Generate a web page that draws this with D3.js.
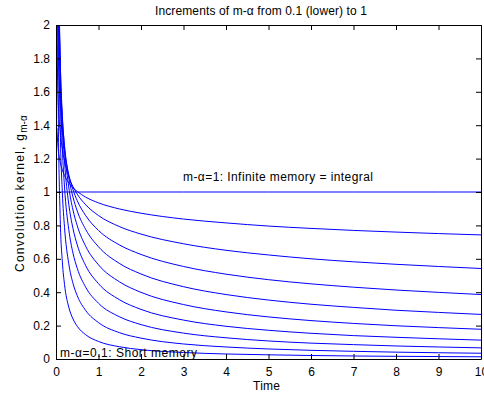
<!DOCTYPE html>
<html><head><meta charset="utf-8">
<script src="https://cdn.jsdelivr.net/npm/d3@7/dist/d3.min.js"></script>
<style>body{margin:0;background:#fff}svg{display:block}text{font-family:"Liberation Sans",Arial,sans-serif}</style>
</head><body><svg id="c" width="484" height="393"></svg>
<script>
const times = [0.02,0.05,0.1,0.15,0.2,0.3,0.4,0.5,0.7,1,1.5,2,3,4,5,6,7,8,9,10];
const orders = [0.1,0.2,0.3,0.4,0.5,0.6,0.7,0.8,0.9,1];
const kernel01 = [3.55,1.56,0.835,0.58,0.447,0.311,0.240,0.196,0.145,0.105,0.073,0.056,0.039,0.030,0.025,0.021,0.018,0.016,0.0146,0.0132];
const kernel02 = [4.98,2.39,1.374,0.994,0.789,0.571,0.453,0.379,0.290,0.218,0.157,0.125,0.090,0.072,0.060,0.052,0.046,0.041,0.0375,0.0345];
const kernel03 = [5.17,2.72,1.675,1.261,1.030,0.776,0.634,0.543,0.429,0.334,0.252,0.206,0.155,0.127,0.108,0.095,0.086,0.078,0.072,0.0667];
const kernel04 = [4.71,2.72,1.795,1.407,1.184,0.928,0.781,0.683,0.558,0.451,0.354,0.297,0.233,0.196,0.172,0.154,0.140,0.130,0.121,0.113];
const kernel05 = [3.99,2.52,1.784,1.457,1.262,1.030,0.892,0.798,0.674,0.564,0.461,0.399,0.326,0.282,0.252,0.230,0.213,0.199,0.188,0.178];
const kernel06 = [3.21,2.23,1.687,1.435,1.279,1.087,0.969,0.886,0.775,0.672,0.571,0.509,0.433,0.386,0.353,0.328,0.309,0.292,0.279,0.267];
const kernel07 = [2.49,1.893,1.537,1.361,1.249,1.105,1.014,0.948,0.858,0.770,0.682,0.626,0.554,0.508,0.475,0.450,0.430,0.413,0.399,0.386];
const kernel08 = [1.88,1.564,1.362,1.255,1.185,1.093,1.032,0.987,0.923,0.859,0.792,0.748,0.690,0.651,0.623,0.600,0.582,0.567,0.554,0.542];
const kernel09 = [1.384,1.262,1.178,1.131,1.099,1.055,1.025,1.003,0.969,0.935,0.898,0.873,0.838,0.815,0.796,0.782,0.770,0.760,0.751,0.743];
const kernel10 = [1,1,1,1,1,1,1,1,1,1,1,1,1,1,1,1,1,1,1,1];
const series = [kernel01,kernel02,kernel03,kernel04,kernel05,kernel06,kernel07,kernel08,kernel09,kernel10];
const xTicks = [0,1,2,3,4,5,6,7,8,9,10];
const yTicks = [0,0.2,0.4,0.6,0.8,1,1.2,1.4,1.6,1.8,2];
const yTickLabels = ["0","0.2","0.4","0.6","0.8","1","1.2","1.4","1.6","1.8","2"];

const L=56,R=481,T=25,B=359;
const svg=d3.select("#c");
const x=d3.scaleLinear().domain([0,10]).range([L,R]);
const y=d3.scaleLinear().domain([0,2]).range([B,T]);

svg.append("defs").append("clipPath").attr("id","clip").append("rect")
  .attr("x",L).attr("y",T).attr("width",R-L).attr("height",B-T);

const line=d3.line().x(d=>x(d[0])).y(d=>y(d[1])).curve(d3.curveMonotoneX);
const g=svg.append("g").attr("clip-path","url(#clip)");
series.forEach(s=>{
  g.append("path").attr("d",line(times.map((t,i)=>[t,s[i]])))
   .attr("fill","none").attr("stroke","#0000ff").attr("stroke-width",1);
});

const axCol="#000";
const ax=svg.append("g").attr("transform",`translate(0,${B})`).call(d3.axisBottom(x).tickValues(xTicks).tickSizeInner(-5).tickSizeOuter(0).tickPadding(8).tickFormat(d3.format("d")));
const axT=svg.append("g").attr("transform",`translate(0,${T})`).call(d3.axisTop(x).tickValues(xTicks).tickSizeInner(-5).tickSizeOuter(0).tickFormat(""));
const ay=svg.append("g").attr("transform",`translate(${L},0)`).call(d3.axisLeft(y).tickValues(yTicks).tickSizeInner(-5).tickSizeOuter(0).tickPadding(6).tickFormat((d,i)=>yTickLabels[i]));
const ayR=svg.append("g").attr("transform",`translate(${R},0)`).call(d3.axisRight(y).tickValues(yTicks).tickSizeInner(-5).tickSizeOuter(0).tickFormat(""));
[ax,axT,ay,ayR].forEach(a=>{
  a.selectAll("path").attr("stroke",axCol);
  a.selectAll("line").attr("stroke",axCol);
  a.selectAll("text").attr("font-size",12).attr("fill","#000").style("font-family",'"Liberation Sans",Arial,sans-serif');
});

function txt(xp,yp,s,len){
  return svg.append("text").attr("x",xp).attr("y",yp).attr("font-size",12)
    .attr("textLength",len).attr("lengthAdjust","spacing").text(s);
}
txt(155,15,"Increments of m-α from 0.1 (lower) to 1",212);
txt(253,390,"Time",27);
txt(183,181,"m-α=1: Infinite memory = integral",190);
txt(60,357,"m-α=0.1: Short memory",137);
const yl=svg.append("text").attr("transform","translate(24,272) rotate(-90)").attr("text-anchor","start").attr("font-size",12);
yl.append("tspan").attr("textLength",138).attr("lengthAdjust","spacing").text("Convolution kernel, g");
yl.append("tspan").attr("dy",3).attr("font-size",10).text("m-α");
</script></body></html>
